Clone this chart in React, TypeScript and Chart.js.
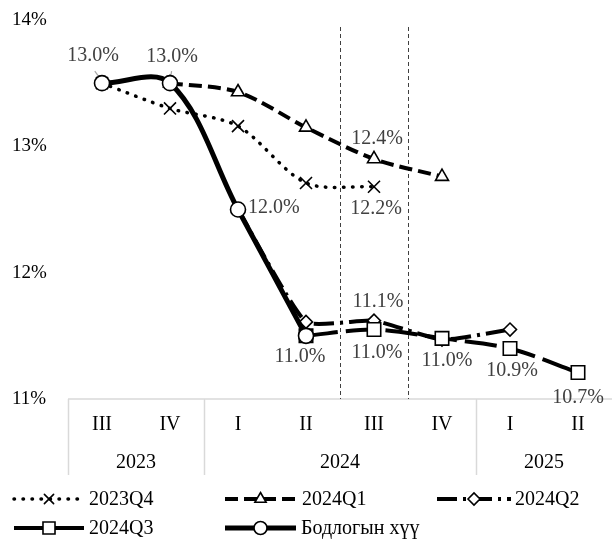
import React, { useEffect, useRef } from "react";
import { Chart, registerables } from "chart.js";

Chart.register(...registerables);

const quarters = ["III", "IV", "I", "II", "III", "IV", "I", "II"];
const years = ["2023", "2024", "2025"];
const yearSpans = [2, 4, 2];
const yTicks = [11, 12, 13, 14];

const policyRate = [13.5, 13.5, 12.5, 11.5, null, null, null, null];
const f2023Q4 = [13.5, 13.3, 13.16, 12.71, 12.68, null, null, null];
const f2024Q1 = [null, 13.5, 13.43, 13.15, 12.9, 12.76, null, null];
const f2024Q2 = [null, null, 12.5, 11.61, 11.62, 11.47, 11.55, null];
const f2024Q3 = [null, null, null, 11.5, 11.55, 11.48, 11.4, 11.21];

const seriesNames = ["2023Q4", "2024Q1", "2024Q2", "2024Q3", "Бодлогын хүү"];

const policyLabels = ["13.0%", "13.0%", "12.0%", "11.0%", null, null, null, null];
const q4Labels = [null, null, null, null, "12.2%", null, null, null];
const q1Labels = [null, null, null, null, "12.4%", null, null, null];
const q2Labels = [null, null, null, null, "11.1%", null, null, null];
const q3Labels = [null, null, null, null, "11.0%", "11.0%", "10.9%", "10.7%"];

// highlighted category (2024 III) is bounded by dashed lines
const highlightIndex = 4;

const FONT = "'Liberation Serif', 'Times New Roman', serif";
const TEXT = "#404040";

type Style = {
  width: number;
  dash: number[];
  cap: CanvasLineCap;
  marker: string;
  r: number;
  legendR: number;
  tension: number;
};

const styles: Style[] = [
  { width: 3.5, dash: [0.5, 8.5], cap: "round", marker: "crossRot", r: 8.5, legendR: 6.5, tension: 0.3 },
  { width: 4, dash: [13, 6], cap: "butt", marker: "triangle", r: 7.5, legendR: 6.5, tension: 0.3 },
  { width: 4, dash: [20, 6, 3, 6], cap: "butt", marker: "rectRot", r: 6.5, legendR: 6, tension: 0.15 },
  { width: 4, dash: [32, 8], cap: "butt", marker: "rect", r: 9.5, legendR: 8.5, tension: 0.3 },
  { width: 5, dash: [], cap: "butt", marker: "circle", r: 7.5, legendR: 6.5, tension: 0.35 },
];

// label offsets: [dx, dy, align]
const policyLabelPos: [number, number, CanvasTextAlign][] = [
  [-9, -27, "center"], [2, -26, "center"], [10, -2, "left"], [-6, 21, "center"],
];
const q4LabelPos: [number, number, CanvasTextAlign] = [2, 22, "center"];
const q1LabelPos: [number, number, CanvasTextAlign] = [3, -20, "center"];
const q2LabelPos: [number, number, CanvasTextAlign] = [4, -19, "center"];
const q3LabelPos: [number, number, CanvasTextAlign][] = [
  [0, 0, "center"], [0, 0, "center"], [0, 0, "center"], [0, 0, "center"],
  [3, 23, "center"], [5, 22, "center"], [2, 22, "center"], [0, 25, "center"],
];

function drawMarker(ctx: CanvasRenderingContext2D, kind: string, x: number, y: number, r: number) {
  ctx.save();
  ctx.setLineDash([]);
  ctx.lineWidth = 1.6;
  ctx.strokeStyle = "#000";
  ctx.fillStyle = "#fff";
  ctx.beginPath();
  if (kind === "circle") {
    ctx.arc(x, y, r, 0, Math.PI * 2);
  } else if (kind === "rect") {
    const s = r * Math.SQRT1_2;
    ctx.rect(x - s, y - s, 2 * s, 2 * s);
  } else if (kind === "rectRot") {
    ctx.moveTo(x - r, y);
    ctx.lineTo(x, y - r);
    ctx.lineTo(x + r, y);
    ctx.lineTo(x, y + r);
    ctx.closePath();
  } else if (kind === "triangle") {
    for (let i = 0; i < 3; i++) {
      const a = (i * 2 * Math.PI) / 3;
      const px = x + Math.sin(a) * r;
      const py = y - Math.cos(a) * r;
      if (i === 0) ctx.moveTo(px, py);
      else ctx.lineTo(px, py);
    }
    ctx.closePath();
  } else if (kind === "crossRot") {
    const o = r * Math.SQRT1_2;
    ctx.moveTo(x - o, y - o);
    ctx.lineTo(x + o, y + o);
    ctx.moveTo(x + o, y - o);
    ctx.lineTo(x - o, y + o);
    ctx.stroke();
    ctx.restore();
    return;
  }
  ctx.fill();
  ctx.stroke();
  ctx.restore();
}

const crisp = (v: number) => Math.round(v) + 0.5;

const overlayPlugin = {
  id: "overlay",
  beforeDatasetsDraw(chart: any) {
    const ctx: CanvasRenderingContext2D = chart.ctx;
    const ca = chart.chartArea;
    const x = chart.scales.x;
    ctx.save();
    // category axis line
    ctx.strokeStyle = "#d9d9d9";
    ctx.lineWidth = 1.5;
    ctx.beginPath();
    ctx.moveTo(ca.left, ca.bottom);
    ctx.lineTo(ca.right, ca.bottom);
    ctx.stroke();
    // group separators
    const half = (x.getPixelForValue(1) - x.getPixelForValue(0)) / 2;
    let start = 0;
    const seps: number[] = [ca.left];
    for (let g = 0; g < yearSpans.length - 1; g++) {
      start += yearSpans[g];
      seps.push(x.getPixelForValue(start) - half);
    }
    seps.forEach((sx) => {
      ctx.beginPath();
      ctx.moveTo(crisp(sx), ca.bottom);
      ctx.lineTo(crisp(sx), ca.bottom + 76);
      ctx.stroke();
    });
    // dashed vertical lines around highlighted category
    ctx.strokeStyle = "#404040";
    ctx.lineWidth = 1;
    ctx.setLineDash([4, 3]);
    [highlightIndex - 0.5, highlightIndex + 0.5].forEach((v) => {
      const px = crisp(x.getPixelForValue(highlightIndex) + (v - highlightIndex) * 2 * half);
      ctx.beginPath();
      ctx.moveTo(px, ca.top + 7);
      ctx.lineTo(px, ca.bottom);
      ctx.stroke();
    });
    ctx.setLineDash([]);
    // leader lines of first two labels
    const meta = chart.getDatasetMeta(4);
    ctx.strokeStyle = "#a6a6a6";
    ctx.lineWidth = 1.2;
    [0, 1].forEach((i) => {
      const p = meta.data[i];
      const [dx] = policyLabelPos[i];
      ctx.beginPath();
      ctx.moveTo(p.x + dx * 0.8, p.y - 12);
      ctx.lineTo(p.x, p.y - 2);
      ctx.stroke();
    });
    // category labels
    ctx.fillStyle = "#000";
    ctx.font = `20px ${FONT}`;
    ctx.textAlign = "center";
    ctx.textBaseline = "middle";
    quarters.forEach((q, i) => {
      ctx.fillText(q, x.getPixelForValue(i), ca.bottom + 26);
    });
    let s = 0;
    years.forEach((yr, g) => {
      const a = x.getPixelForValue(s) - half;
      const b = x.getPixelForValue(s + yearSpans[g] - 1) + half;
      ctx.fillText(yr, (a + Math.min(b, ca.right)) / 2, ca.bottom + 64);
      s += yearSpans[g];
    });
    ctx.restore();
  },
  afterDatasetsDraw(chart: any) {
    const ctx: CanvasRenderingContext2D = chart.ctx;
    ctx.save();
    ctx.fillStyle = TEXT;
    ctx.font = `20px ${FONT}`;
    ctx.textBaseline = "middle";
    const put = (di: number, labels: (string | null)[], pos: (i: number) => [number, number, CanvasTextAlign]) => {
      const meta = chart.getDatasetMeta(di);
      labels.forEach((t, i) => {
        if (!t) return;
        const p = meta.data[i];
        const [dx, dy, al] = pos(i);
        ctx.textAlign = al;
        ctx.fillText(t, p.x + dx, p.y + dy);
      });
    };
    put(4, policyLabels, (i) => policyLabelPos[i]);
    put(0, q4Labels, () => q4LabelPos);
    put(1, q1Labels, () => q1LabelPos);
    put(2, q2Labels, () => q2LabelPos);
    put(3, q3Labels, (i) => q3LabelPos[i]);
    ctx.restore();
  },
  afterDraw(chart: any) {
    const ctx: CanvasRenderingContext2D = chart.ctx;
    const items = [
      { x: 14, y: 499, w: 70, tx: 89 },
      { x: 225, y: 499, w: 71, tx: 302 },
      { x: 437, y: 499, w: 74, tx: 515 },
      { x: 14, y: 528, w: 70, tx: 89 },
      { x: 225, y: 528, w: 71, tx: 301 },
    ];
    ctx.save();
    items.forEach((it, i) => {
      const st = styles[i];
      ctx.strokeStyle = "#000";
      ctx.lineWidth = st.width;
      ctx.lineCap = st.cap;
      ctx.setLineDash(st.dash);
      ctx.beginPath();
      ctx.moveTo(it.x, it.y);
      ctx.lineTo(it.x + it.w, it.y);
      ctx.stroke();
      ctx.setLineDash([]);
      drawMarker(ctx, st.marker, it.x + it.w / 2, it.y, st.legendR);
      ctx.fillStyle = "#000";
      ctx.font = `20px ${FONT}`;
      ctx.textAlign = "left";
      ctx.textBaseline = "middle";
      ctx.fillText(seriesNames[i], it.tx, it.y + 1);
    });
    ctx.restore();
  },
};

export default function App() {
  const ref = useRef<HTMLCanvasElement | null>(null);
  useEffect(() => {
    if (!ref.current) return;
    const series = [f2023Q4, f2024Q1, f2024Q2, f2024Q3, policyRate];
    const orders = [4, 3, 2, 1, 0];
    const chart = new Chart(ref.current, {
      type: "line",
      data: {
        labels: quarters,
        datasets: series.map((d, i) => ({
          label: seriesNames[i],
          data: d,
          order: orders[i],
          borderColor: "#000",
          borderWidth: styles[i].width,
          borderDash: styles[i].dash,
          borderCapStyle: styles[i].cap,
          tension: styles[i].tension,
          pointStyle: styles[i].marker as any,
          pointRadius: styles[i].r,
          pointBorderWidth: 1.6,
          pointBorderColor: "#000",
          pointBackgroundColor: "#fff",
          fill: false,
          spanGaps: false,
        })),
      },
      options: {
        animation: false,
        responsive: false,
        events: [],
        layout: { autoPadding: false, padding: { left: 12, right: 0, top: 20, bottom: 142 } },
        plugins: { legend: { display: false }, tooltip: { enabled: false } },
        scales: {
          x: { type: "category", display: false, offset: true },
          y: {
            min: yTicks[0],
            max: yTicks[yTicks.length - 1],
            afterBuildTicks: (s: any) => {
              s.ticks = yTicks.map((v) => ({ value: v }));
            },
            ticks: {
              callback: (v: any) => `${v}%`,
              font: { family: FONT, size: 19 },
              color: "#000",
              crossAlign: "far",
              padding: 0,
            },
            grid: { display: false },
            border: { display: false },
            afterFit: (s: any) => {
              s.width = 56;
            },
          },
        },
      },
      plugins: [overlayPlugin],
    });
    return () => chart.destroy();
  }, []);
  return (
    <div style={{ position: "absolute", left: 0, top: 0, width: 612, height: 541, background: "#fff" }}>
      <canvas ref={ref} width={612} height={541} style={{ width: 612, height: 541 }} />
    </div>
  );
}
